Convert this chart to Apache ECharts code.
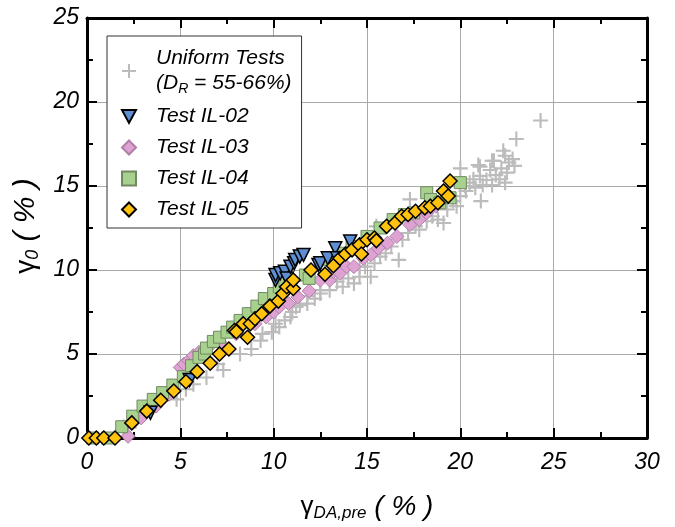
<!DOCTYPE html>
<html>
<head>
<meta charset="utf-8">
<script src="https://cdn.jsdelivr.net/npm/echarts@6/dist/echarts.min.js"></script>
<style>html,body{margin:0;padding:0;background:#fff}#c{width:675px;height:527px}</style>
</head>
<body>
<div id="c"></div>
<script>
// ---- data ----
var seriesNames = ['Uniform Tests', 'Test IL-02', 'Test IL-03', 'Test IL-04', 'Test IL-05'];

var uniformTests = [
  [2.6,1.0],[3.4,1.6],[4.8,2.3],[5.3,2.9],[5.7,3.2],[6.4,3.6],[7.3,4.05],[7.0,4.4],[8.2,5.0],[8.8,5.3],
  [9.3,5.8],[9.4,6.2],[9.9,6.3],[10.1,6.8],[10.3,6.6],[10.6,7.0],[10.9,7.2],[11.0,7.5],[11.2,7.8],[11.4,7.9],
  [11.8,8.45],[11.8,8.0],[12.2,8.3],[12.5,8.6],[12.5,8.8],[13.0,8.8],[13.4,9.3],[13.7,9.0],[14.0,9.5],[14.3,9.2],
  [14.6,9.6],[14.6,10.2],[14.9,10.2],[15.2,9.6],[15.4,10.4],[15.7,10.8],[15.5,12.6],[16.0,11.0],[16.3,11.4],[16.7,10.6],
  [16.9,11.8],[17.3,14.2],[17.2,12.2],[17.6,12.6],[17.8,12.4],[18.2,12.9],[18.5,13.2],[18.8,13.0],[19.1,12.8],[19.3,13.6],
  [19.6,14.1],[19.8,13.8],[20.0,14.4],[20.0,16.05],[20.3,14.7],[20.25,15.0],[20.5,15.2],[20.7,15.4],[20.8,14.9],[20.96,16.25],
  [21.05,15.6],[21.05,16.15],[21.1,14.1],[21.2,15.06],[21.4,15.36],[21.6,15.95],[21.7,15.06],[21.7,16.5],[21.8,16.5],[21.9,15.65],
  [22.1,15.4],[22.2,16.05],[22.3,17.1],[22.4,15.2],[22.4,16.8],[22.5,15.8],[22.6,16.4],[22.8,16.6],[22.9,16.2],[23.0,17.8],
  [24.3,18.9]
];

var testIL02 = [
  [3.4,1.5],[5.5,3.45],[10.1,9.4],[10.1,9.7],[10.35,9.8],[10.6,9.9],[10.7,9.5],[10.9,10.2],[11.1,10.4],[11.15,10.6],
  [11.4,10.8],[11.6,10.9],[12.4,10.3],[12.5,10.4],[12.9,10.7],[13.3,11.3],[13.4,10.7],[14.1,11.7]
];

var testIL03 = [
  [2.2,0.1],[1.95,0.67],[2.55,1.05],[2.9,1.2],[3.7,1.9],[4.4,2.6],[5.0,4.2],[5.2,4.4],[5.45,4.6],[5.7,4.9],
  [6.0,5.1],[6.5,5.4],[7.2,5.6],[8.0,6.2],[9.0,6.8],[9.6,7.2],[10.0,7.5],[10.3,7.8],[10.8,8.0],[11.3,8.4],
  [11.9,8.75],[12.5,9.4],[13.0,9.4],[13.2,9.9],[13.55,9.8],[13.9,10.2],[14.3,10.2],[14.8,10.7],[15.2,10.9],[15.6,11.3],
  [16.1,11.6],[16.6,12.0],[17.3,12.7],[17.8,13.0],[18.2,13.4],[18.7,13.8]
];

var testIL04 = [
  [0.3,0],[1.1,0],[1.86,0.67],[2.45,1.3],[3.0,1.9],[3.55,2.3],[4.05,2.7],[4.6,3.15],[5.16,3.65],[5.6,4.3],
  [6.0,4.8],[6.3,5.0],[6.4,5.35],[6.77,5.75],[7.1,6.0],[7.5,6.3],[7.8,6.6],[8.2,7.0],[8.64,7.4],[9.1,7.85],
  [9.5,8.3],[10.0,8.6],[10.3,9.0],[10.6,9.3],[11.7,9.7],[11.9,9.5],[13.0,10.6],[13.6,11.0],[14.2,11.4],[15.0,12.0],
  [15.7,12.5],[16.4,13.0],[17.0,13.3],[17.5,13.4],[18.2,14.6],[18.4,14.2],[18.9,14.0],[19.45,14.3],[20.0,15.2]
];

var testIL05 = [
  [0.1,0],[0.5,0],[0.9,0],[1.5,0],[2.4,0.9],[3.2,1.6],[3.95,2.25],[4.65,2.8],[5.3,3.35],[5.9,3.95],
  [6.6,4.45],[7.1,5.0],[7.6,5.3],[7.9,6.4],[8.0,6.33],[8.37,6.8],[8.6,6.0],[8.75,6.8],[9.0,7.1],[9.36,7.4],
  [9.8,7.85],[10.25,8.15],[10.5,8.6],[10.7,9.0],[11.05,8.9],[11.05,9.4],[12.0,10.0],[12.75,9.75],[13.2,10.25],[13.55,10.7],
  [13.85,10.95],[14.2,11.2],[14.6,11.5],[14.7,10.95],[15.0,11.8],[15.4,11.9],[15.5,11.75],[16.05,12.6],[16.5,12.8],[16.85,13.2],
  [17.2,13.3],[17.6,13.5],[18.1,13.7],[18.4,13.8],[18.8,14.0],[19.1,14.7],[19.35,14.4],[19.45,15.3]
];

var xRange = [0, 30, 5];
var yRange = [0, 25, 5];

// ---- chart ----
var FONT = '"Liberation Sans", Arial, sans-serif';
var plusPath = 'path://M6,0H8V6H14V8H8V14H6V8H0V6H6Z';
var downTriPath = 'path://M0,0H12L6,11Z';

function axisBase(pos, range, showLabel, labelMargin) {
  return {
    type: 'value', position: pos, min: range[0], max: range[1], interval: range[2],
    axisLine: { show: true, onZero: false, lineStyle: { color: '#000', width: 3 } },
    axisTick: { show: true, inside: true, length: 10, lineStyle: { color: '#000', width: 2 } },
    minorTick: { show: true, splitNumber: 2, length: 6, lineStyle: { color: '#000', width: 2 } },
    axisLabel: { show: showLabel, color: '#000', fontSize: 23, fontStyle: 'italic', fontFamily: FONT, margin: labelMargin },
    splitLine: { show: false }
  };
}

var xMain = axisBase('bottom', xRange, true, 13);
xMain.splitLine = { show: true, lineStyle: { color: '#aaaaaa', width: 1 } };
xMain.name = '{g|γ}{s|DA,pre}{p| ( % )}';
xMain.nameLocation = 'middle';
xMain.nameGap = 54;
xMain.nameTextStyle = {
  color: '#000', fontFamily: FONT,
  rich: {
    g: { fontSize: 26, fontFamily: FONT, color: '#000', lineHeight: 30 },
    s: { fontSize: 17, fontStyle: 'italic', fontFamily: FONT, color: '#000', lineHeight: 22, verticalAlign: 'bottom' },
    p: { fontSize: 28, fontStyle: 'italic', fontFamily: FONT, color: '#000', lineHeight: 30 }
  }
};
var xTop = axisBase('top', xRange, false, 8);

var yMain = axisBase('left', yRange, true, 8);
yMain.splitLine = { show: true, lineStyle: { color: '#aaaaaa', width: 1 } };
var yRight = axisBase('right', yRange, false, 8);

var chart = echarts.init(document.getElementById('c'), null, { renderer: 'canvas' });
chart.setOption({
  animation: false,
  backgroundColor: '#fff',
  grid: { left: 87, right: 28, top: 18, bottom: 89, containLabel: false },
  xAxis: [xMain, xTop],
  yAxis: [yMain, yRight],
  graphic: [{
    type: 'text',
    x: 26, y: 226,
    rotation: Math.PI / 2,
    style: {
      text: '{g|γ}{s|0}{p| ( % )}',
      align: 'center', verticalAlign: 'middle',
      fill: '#000',
      rich: {
        g: { fontSize: 28, fontFamily: FONT, fill: '#000', lineHeight: 32 },
        s: { fontSize: 18, fontStyle: 'italic', fontFamily: FONT, fill: '#000', lineHeight: 24, verticalAlign: 'bottom' },
        p: { fontSize: 30, fontStyle: 'italic', fontFamily: FONT, fill: '#000', lineHeight: 32 }
      }
    }
  }],
  legend: {
    data: [
      { name: seriesNames[0] },
      { name: seriesNames[1], icon: downTriPath },
      { name: seriesNames[2] },
      { name: seriesNames[3] },
      { name: seriesNames[4] }
    ],
    orient: 'vertical',
    left: 107, top: 36,
    padding: [12, 10, 8, 14],
    itemGap: 10,
    itemWidth: 14, itemHeight: 14,
    backgroundColor: '#fff',
    borderColor: '#333', borderWidth: 1,
    selectedMode: false,
    formatter: function (name) {
      if (name === 'Uniform Tests') {
        return '{u|Uniform Tests}\n{u|(D}{r|R}{u| = 55-66%)}';
      }
      return '{t|' + name + '}';
    },
    textStyle: {
      color: '#000', fontFamily: FONT, fontStyle: 'italic', fontSize: 21,
      padding: [0, 0, 0, 15],
      rich: {
        u: { fontSize: 21, fontStyle: 'italic', fontFamily: FONT, color: '#000', lineHeight: 25 },
        r: { fontSize: 14, fontStyle: 'italic', fontFamily: FONT, color: '#000', lineHeight: 16, verticalAlign: 'bottom' },
        t: { fontSize: 21, fontStyle: 'italic', fontFamily: FONT, color: '#000', lineHeight: 22 }
      }
    }
  },
  series: [
    {
      name: seriesNames[0], type: 'scatter', data: uniformTests, clip: false,
      symbol: plusPath, symbolSize: 15, z: 2,
      itemStyle: { color: '#bcbcbc', opacity: 1 }
    },
    {
      name: seriesNames[2], type: 'scatter', data: testIL03, clip: false,
      symbol: 'diamond', symbolSize: 14, z: 3,
      itemStyle: { color: '#dea3d2', borderColor: '#b07fa8', borderWidth: 1, opacity: 1 }
    },
    {
      name: seriesNames[3], type: 'scatter', data: testIL04, clip: false,
      symbol: 'rect', symbolSize: 12, z: 4,
      itemStyle: { color: '#a9d18e', borderColor: '#6f8a62', borderWidth: 1, opacity: 1 }
    },
    {
      name: seriesNames[1], type: 'scatter', data: testIL02, clip: false,
      symbol: 'triangle', symbolRotate: 180, symbolSize: 13, z: 5,
      itemStyle: { color: '#5f8fd3', borderColor: '#000', borderWidth: 1.5, opacity: 1 }
    },
    {
      name: seriesNames[4], type: 'scatter', data: testIL05, clip: false,
      symbol: 'diamond', symbolSize: 14, z: 6,
      itemStyle: { color: '#ffc20e', borderColor: '#000', borderWidth: 1.5, opacity: 1 }
    }
  ]
});
</script>
</body>
</html>
